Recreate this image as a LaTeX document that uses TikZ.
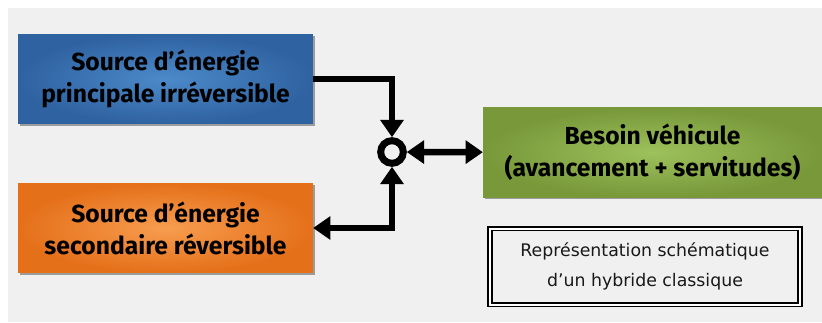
\documentclass[tikz,border=0pt]{standalone}
\usepackage{fontspec}
\setmainfont{Fira Sans}
\newfontfamily\legendfont{DejaVu Sans}
\usetikzlibrary{arrows.meta,shadows}

\definecolor{bggray}{HTML}{F0F0F0}
\definecolor{blueedge}{HTML}{2F62A0}
\definecolor{bluemid}{HTML}{4C8ACA}
\definecolor{orangeedge}{HTML}{E5701A}
\definecolor{orangemid}{HTML}{F79D4F}
\definecolor{greenedge}{HTML}{78983A}
\definecolor{greenmid}{HTML}{9DC15B}

\begin{document}
\begin{tikzpicture}[x=0.75pt,y=-0.75pt,
    >={Triangle[width=17pt,length=13pt]},
    srcbox/.style={rectangle,minimum width=221pt,minimum height=67pt,align=center,
        font=\fontsize{18.5}{24}\selectfont\bfseries,
        drop shadow={shadow xshift=1.5pt,shadow yshift=-1.5pt,fill=black,opacity=0.35}},
    flow/.style={line width=4.8pt}]
    \useasboundingbox (0,0) rectangle (822,322);

    % background
    \fill[bggray] (8,8) rectangle (822,322);

    % sources and demand
    \node[srcbox,inner color=bluemid,outer color=blueedge] (princ) at (165.5,79)
        {Source d’énergie\\principale irréversible};
    \node[srcbox,inner color=orangemid,outer color=orangeedge] (second) at (165.5,228)
        {Source d’énergie\\secondaire réversible};
    \node[srcbox,minimum width=254pt,inner color=greenmid,outer color=greenedge] (besoin) at (652.5,152.5)
        {Besoin véhicule\\(avancement + servitudes)};

    % junction
    \node[circle,draw,line width=5.2pt,minimum size=17pt,inner sep=0pt] (junc) at (392,152) {};

    % connectors
    \draw[flow,->] (princ.east) -| (junc);
    \draw[flow,<->] (junc) |- (second.east);
    \draw[flow,<->] (junc) -- (besoin);

    % legend
    \node[draw,line width=1.4pt,double=white,double distance=1.5pt,
        minimum width=232pt,minimum height=57pt,align=center,
        font=\legendfont\fontsize{13}{22.5}\selectfont,text=black!90] (legend) at (645,266.5)
        {Représentation schématique\\d’un hybride classique};
\end{tikzpicture}
\end{document}
